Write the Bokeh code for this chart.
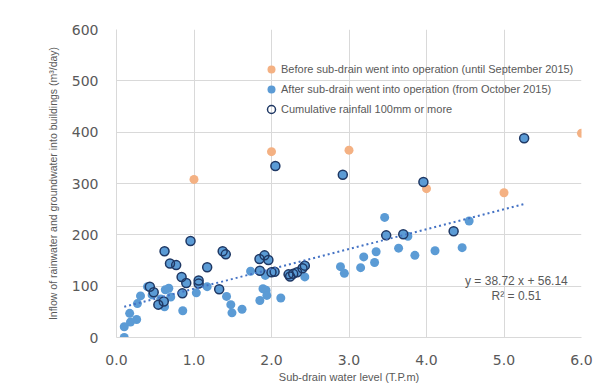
from bokeh.plotting import figure
from bokeh.models import Range1d, Legend, LegendItem, Label, FixedTicker, CustomJSTickFormatter
from bokeh.embed import file_html
from bokeh.resources import INLINE

# Before sub-drain went into operation (until September 2015)
before_x = [1.0, 2.0, 3.0, 4.0, 5.0, 6.0]
before_y = [308, 362, 365, 290, 282, 398]

# After sub-drain went into operation (from October 2015)
after_x = [0.10, 0.10, 0.17, 0.18, 0.26, 0.27, 0.31, 0.40, 0.46, 0.57, 0.62, 0.63,
           0.675, 0.70, 0.855, 1.03, 1.17, 1.42, 1.475, 1.49, 1.62, 1.73, 1.85, 1.89,
           1.93, 1.94, 1.92, 2.12, 2.43, 2.89, 2.94, 3.15, 3.19, 3.33, 3.35, 3.46,
           3.64, 3.76, 3.85, 4.11, 4.46, 4.55]
after_y = [0, 21, 47, 30, 35, 66, 81, 99, 83, 75, 60, 93,
           96, 79, 52, 87, 99, 80, 64, 48, 55, 129, 72, 95,
           92, 82, 121, 77, 118, 138, 125, 136, 157, 146, 167, 234,
           174, 197, 160, 169, 175, 227]

# After sub-drain, with cumulative rainfall 100mm or more
rain_x = [0.43, 0.48, 0.54, 0.61, 0.62, 0.69, 0.77, 0.84, 0.85, 0.90, 0.955, 1.06,
          1.06, 1.17, 1.325, 1.37, 1.41, 1.845, 1.85, 1.91, 1.96, 2.0, 2.04, 2.05,
          2.22, 2.24, 2.28, 2.33, 2.40, 2.43, 2.92, 3.48, 3.70, 3.96, 4.35, 5.26]
rain_y = [99, 88, 64, 70, 168, 144, 141, 118, 86, 106, 188, 111,
          105, 137, 94, 168, 162, 153, 130, 160, 151, 127, 128, 334,
          123, 119, 124, 127, 135, 140, 317, 199, 201, 303, 207, 388]

# Linear trend (from the chart's annotation)
slope = 38.72
intercept = 56.14
r_squared = 0.51

x_ticks = [0, 1, 2, 3, 4, 5, 6]
y_ticks = [0, 100, 200, 300, 400, 500, 600]

GREY = "#595959"
GRID = "#d9d9d9"
ORANGE = "#F4B183"
BLUE = "#5B9BD5"
NAVY = "#1F3864"

p = figure(frame_width=465, frame_height=308, output_backend="svg", toolbar_location=None,
           x_range=Range1d(0, 6), y_range=Range1d(0, 600),
           min_border_left=116, min_border_right=15, min_border_top=29, min_border_bottom=46)
p.outline_line_color = None
p.background_fill_color = "white"
p.border_fill_color = "white"

for ax in (p.xaxis[0], p.yaxis[0]):
    ax.axis_line_color = GRID
    ax.major_tick_line_color = None
    ax.minor_tick_line_color = None
    ax.major_label_text_color = GREY
    ax.major_label_text_font = "DejaVu Sans"
    ax.major_label_text_font_size = "14px"
    ax.axis_label_text_color = GREY
    ax.axis_label_text_font = "Liberation Sans"
    ax.axis_label_text_font_size = "11px"
    ax.axis_label_text_font_style = "normal"

p.yaxis.axis_label_text_font_size = "10.5px"
p.xaxis.ticker = FixedTicker(ticks=x_ticks)
p.yaxis.ticker = FixedTicker(ticks=y_ticks)
p.xaxis.formatter = CustomJSTickFormatter(code="return tick.toFixed(1);")
p.xaxis.major_label_standoff = 11
p.yaxis.major_label_standoff = 12
p.xaxis.axis_label = "Sub-drain water level (T.P.m)"
p.yaxis.axis_label = "Inflow of rainwater and groundwater into buildings (m\u00b3/day)"
p.xaxis.axis_label_standoff = 3
p.yaxis.axis_label_standoff = 10

p.xgrid.grid_line_color = GRID
p.ygrid.grid_line_color = GRID
p.xgrid.ticker = FixedTicker(ticks=x_ticks)
p.ygrid.ticker = FixedTicker(ticks=y_ticks)

r_before = p.scatter(before_x, before_y, size=9, fill_color=ORANGE, line_color=None)
r_after = p.scatter(after_x + rain_x, after_y + rain_y, size=9, fill_color=BLUE, line_color=None)
r_rain = p.scatter(rain_x, rain_y, size=9, fill_color=None, line_color=NAVY, line_width=1.5)

all_after_x = after_x + rain_x
x0, x1 = min(all_after_x), max(all_after_x)
p.line([x0, x1], [slope * x0 + intercept, slope * x1 + intercept],
       line_color="#4472C4", line_width=2, line_dash="2 3")

eq = Label(x=5.16, y=111, text=f"y = {slope:.2f} x + {intercept:.2f}", text_align="center",
           text_baseline="middle", text_color=GREY, text_font="Liberation Sans", text_font_size="12px")
r2 = Label(x=5.16, y=80, text=f"R\u00b2 = {r_squared:.2f}", text_align="center",
           text_baseline="middle", text_color=GREY, text_font="Liberation Sans", text_font_size="12px")
p.add_layout(eq)
p.add_layout(r2)

legend = Legend(items=[
    LegendItem(label="Before sub-drain went into operation (until September 2015)", renderers=[r_before]),
    LegendItem(label="After sub-drain went into operation (from October 2015)", renderers=[r_after]),
    LegendItem(label="Cumulative rainfall 100mm or more", renderers=[r_rain]),
], location=(145, 218), glyph_width=20, glyph_height=20, label_height=20, spacing=0,
    padding=0, margin=0, label_standoff=0, border_line_color=None, background_fill_alpha=0,
    label_text_font="Liberation Sans", label_text_font_size="11px", label_text_color=GREY)
p.add_layout(legend, "center")

open("out.html", "w").write(file_html(p, INLINE))
